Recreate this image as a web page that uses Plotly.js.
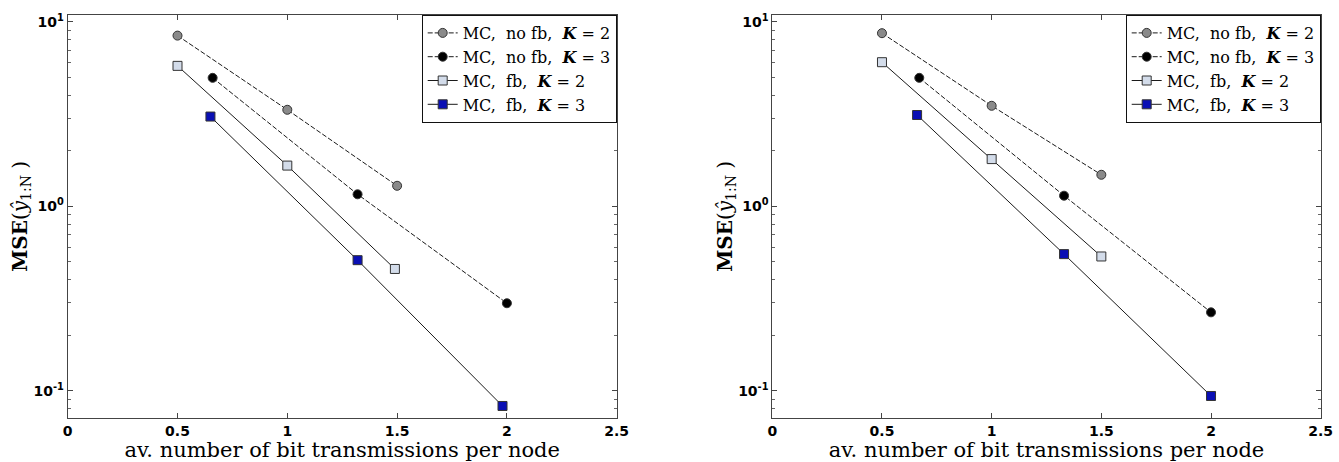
<!DOCTYPE html>
<html>
<head>
<meta charset="utf-8">
<script src="https://cdn.plot.ly/plotly-3.0.1.min.js"></script>
<style>html,body{margin:0;padding:0;background:#fff;}#chart{width:1339px;height:462px;}</style>
</head>
<body>
<div id="chart"></div>
<script>
// Series names
const seriesNames = [
  "MC,  no fb,  <b><i>K</i></b> = 2",
  "MC,  no fb,  <b><i>K</i></b> = 3",
  "MC,  fb,  <b><i>K</i></b> = 2",
  "MC,  fb,  <b><i>K</i></b> = 3"
];

// Left panel data
const leftXNoFbK2 = [0.5, 1.0, 1.5];
const leftYNoFbK2 = [8.4, 3.33, 1.29];
const leftXNoFbK3 = [0.66, 1.32, 2.0];
const leftYNoFbK3 = [4.96, 1.16, 0.298];
const leftXFbK2 = [0.5, 1.0, 1.49];
const leftYFbK2 = [5.76, 1.66, 0.457];
const leftXFbK3 = [0.65, 1.32, 1.98];
const leftYFbK3 = [3.06, 0.51, 0.0827];

// Right panel data
const rightXNoFbK2 = [0.5, 1.0, 1.5];
const rightYNoFbK2 = [8.66, 3.5, 1.48];
const rightXNoFbK3 = [0.67, 1.33, 2.0];
const rightYNoFbK3 = [4.96, 1.14, 0.266];
const rightXFbK2 = [0.5, 1.0, 1.5];
const rightYFbK2 = [6.03, 1.8, 0.534];
const rightXFbK3 = [0.66, 1.33, 2.0];
const rightYFbK3 = [3.12, 0.55, 0.0937];

// Tick labels
const xTickVals = [0, 0.5, 1, 1.5, 2, 2.5];
const xTickText = ["0", "0.5", "1", "1.5", "2", "2.5"];
const yTickVals = [0.1, 1, 10];
const yTickText = ["10<sup>-1</sup>", "10<sup>0</sup>", "10<sup>1</sup>"];

const styles = [
  {dash: "5px,2px", symbol: "circle", fill: "#8a8a8a"},
  {dash: "5px,2px", symbol: "circle", fill: "#000000"},
  {dash: "solid", symbol: "square", fill: "#d3dcea"},
  {dash: "solid", symbol: "square", fill: "#0a0fb4"}
];

function mkTraces(xs, ys, xa, ya, legendId) {
  return xs.map((x, i) => ({
    x: x, y: ys[i], xaxis: xa, yaxis: ya, legend: legendId,
    type: "scatter", mode: "lines+markers", name: seriesNames[i],
    line: {color: "#1a1a1a", width: 1, dash: styles[i].dash},
    marker: {symbol: styles[i].symbol, size: 9, color: styles[i].fill,
             line: {color: "#333", width: 1}}
  }));
}

const traces = [].concat(
  mkTraces([leftXNoFbK2, leftXNoFbK3, leftXFbK2, leftXFbK3],
           [leftYNoFbK2, leftYNoFbK3, leftYFbK2, leftYFbK3], "x", "y", "legend"),
  mkTraces([rightXNoFbK2, rightXNoFbK3, rightXFbK2, rightXFbK3],
           [rightYNoFbK2, rightYNoFbK3, rightYFbK2, rightYFbK3], "x2", "y2", "legend2")
);

const W = 1339, H = 462;
const tickFont = {family: "DejaVu Sans", size: 14, color: "#000", weight: "bold"};
const serif = "DejaVu Serif";

function xAxis(dom, anchor) {
  return {
    domain: dom, anchor: anchor, range: [0, 2.5], tickvals: xTickVals, ticktext: xTickText,
    ticks: "inside", ticklen: 5, tickcolor: "#444", showline: true, linecolor: "#444",
    linewidth: 1, mirror: "allticks", showgrid: false, zeroline: false,
    tickfont: tickFont,
    title: {text: "av. number of bit transmissions per node", font: {family: serif, size: 21, color: "#000"}, standoff: 0}
  };
}
function yAxis(anchor) {
  return {
    domain: [1 - 417.7 / H, 1 - 15 / H], anchor: anchor, type: "log", range: [-1.146, 1.036],
    tickvals: yTickVals, ticktext: yTickText,
    ticks: "inside", ticklen: 5, tickcolor: "#444", showline: true, linecolor: "#444",
    linewidth: 1, mirror: "allticks", showgrid: false, zeroline: false,
    minor: {ticks: "inside", ticklen: 3, tickcolor: "#666", dtick: "D1", showgrid: false},
    tickfont: tickFont,
    title: {text: "<b>MSE</b>(<i>ŷ</i><sub>1:N</sub> )", font: {family: serif, size: 20, color: "#000"}, standoff: 0}
  };
}

function legend(xRight) {
  return {
    x: xRight, xanchor: "right", y: 1 - 15 / H, yanchor: "top",
    xref: "paper", yref: "paper",
    bgcolor: "#fff", bordercolor: "#111", borderwidth: 1,
    font: {family: serif, size: 16, color: "#000"},
    itemwidth: 30, tracegroupgap: 0
  };
}

const layout = {
  width: W, height: H,
  margin: {l: 0, r: 0, t: 0, b: 0},
  paper_bgcolor: "#fff", plot_bgcolor: "#fff",
  showlegend: true,
  xaxis: xAxis([67.7 / W, 616.7 / W], "y"),
  yaxis: yAxis("x"),
  xaxis2: xAxis([772.3 / W, 1320.7 / W], "y2"),
  yaxis2: yAxis("x2"),
  legend: legend(616.7 / W),
  legend2: legend(1320.7 / W)
};

Plotly.newPlot("chart", traces, layout, {displayModeBar: false, staticPlot: true});
</script>
</body>
</html>
